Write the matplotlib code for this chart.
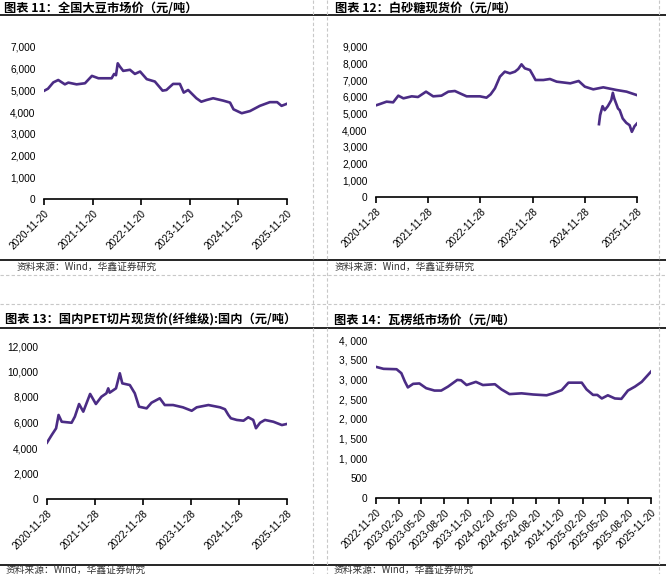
import numpy as np
import pandas as pd
import matplotlib
matplotlib.use("Agg")
import matplotlib.pyplot as plt
from matplotlib.ticker import FuncFormatter

W, H = 666, 574
LINE_COLOR = "#4b2c85"
CJK = ["Noto Sans CJK SC", "DejaVu Sans"]
NUM = ["Liberation Sans", "DejaVu Sans"]

# ---- 图表11 全国大豆市场价
soy_dates = ["2020-11-20", "2020-12-20", "2021-01-29", "2021-03-07", "2021-04-26", "2021-05-22",
             "2021-07-23", "2021-09-24", "2021-11-15", "2022-01-03", "2022-04-12", "2022-05-01",
             "2022-05-15", "2022-05-28", "2022-06-13", "2022-07-08", "2022-08-28", "2022-10-04",
             "2022-11-12", "2023-01-01", "2023-03-03", "2023-04-30", "2023-05-29", "2023-07-18",
             "2023-09-07", "2023-10-06", "2023-11-08", "2024-01-09", "2024-02-15", "2024-03-26",
             "2024-05-14", "2024-07-29", "2024-09-18", "2024-10-14", "2024-12-15", "2025-02-15",
             "2025-04-30", "2025-07-14", "2025-09-07", "2025-10-10", "2025-11-17"]
soy_price = [4980, 5080, 5370, 5480, 5280, 5360,
             5280, 5330, 5670, 5560, 5560, 5760,
             5700, 6250, 6100, 5900, 5950, 5760,
             5870, 5520, 5410, 4990, 5020, 5300,
             5300, 4900, 5020, 4640, 4480, 4560,
             4640, 4530, 4440, 4130, 3950, 4050,
             4290, 4460, 4460, 4290, 4380]
soy_ticks = ["2020-11-20", "2021-11-20", "2022-11-20", "2023-11-20", "2024-11-20", "2025-11-20"]

# ---- 图表12 白砂糖现货价 (two series)
sugar_dates = ["2020-11-28", "2020-12-26", "2021-02-10", "2021-03-28", "2021-05-03", "2021-06-08",
               "2021-08-05", "2021-09-18", "2021-11-13", "2022-01-02", "2022-03-01", "2022-04-18",
               "2022-06-03", "2022-07-08", "2022-08-24", "2022-11-25", "2023-01-10", "2023-02-08",
               "2023-03-10", "2023-04-14", "2023-05-18", "2023-06-23", "2023-07-28", "2023-08-20",
               "2023-09-12", "2023-10-05", "2023-11-10", "2023-11-30", "2023-12-19", "2024-02-12",
               "2024-03-29", "2024-05-15", "2024-08-18", "2024-10-16", "2024-11-28", "2025-01-26",
               "2025-04-06", "2025-07-08", "2025-09-16", "2025-11-25"]
sugar_price = [5500, 5580, 5720, 5680, 6080, 5920,
               6040, 6000, 6320, 6040, 6080, 6320,
               6360, 6220, 6040, 6040, 5960, 6160,
               6520, 7220, 7520, 7420, 7520, 7680,
               7960, 7720, 7620, 7320, 7020, 7020,
               7080, 6920, 6820, 6960, 6620, 6460,
               6580, 6420, 6320, 6120]
sugar2_dates = ["2025-03-07", "2025-03-15", "2025-04-01", "2025-04-16", "2025-05-08", "2025-06-01",
                "2025-06-12", "2025-06-22", "2025-07-18", "2025-07-30", "2025-08-20", "2025-09-14",
                "2025-10-07", "2025-10-23", "2025-11-11", "2025-11-28"]
sugar2_price = [4370, 4910, 5450, 5210, 5450, 5810,
                6250, 5910, 5310, 5210, 4710, 4450,
                4310, 3910, 4250, 4410]
sugar_ticks = ["2020-11-28", "2021-11-28", "2022-11-28", "2023-11-28", "2024-11-28", "2025-11-28"]

# ---- 图表13 国内PET切片现货价(纤维级)
pet_dates = ["2020-11-28", "2021-01-03", "2021-02-05", "2021-02-24", "2021-03-20", "2021-06-03",
             "2021-06-28", "2021-07-30", "2021-08-31", "2021-10-22", "2021-12-05", "2022-01-16",
             "2022-02-23", "2022-03-09", "2022-03-20", "2022-05-07", "2022-06-05", "2022-06-24",
             "2022-08-20", "2022-09-27", "2022-10-29", "2022-12-26", "2023-02-01", "2023-04-05",
             "2023-05-13", "2023-07-15", "2023-09-28", "2023-12-04", "2024-01-11", "2024-04-09",
             "2024-07-07", "2024-08-13", "2024-09-08", "2024-09-27", "2024-11-11", "2025-01-01",
             "2025-02-06", "2025-03-16", "2025-04-06", "2025-05-07", "2025-06-13", "2025-08-16",
             "2025-10-20", "2025-11-25"]
pet_price = [4420, 5020, 5540, 6590, 6060, 5980,
             6460, 7450, 6850, 8240, 7450, 8020,
             8290, 8680, 8340, 8680, 9860, 9070,
             8940, 8290, 7240, 7110, 7550, 7900,
             7370, 7370, 7190, 6920, 7190, 7370,
             7190, 7040, 6590, 6330, 6200, 6140,
             6410, 6200, 5550, 5980, 6200, 6060,
             5800, 5880]
pet_ticks = ["2020-11-28", "2021-11-28", "2022-11-28", "2023-11-28", "2024-11-28", "2025-11-28"]

# ---- 图表14 瓦楞纸市场价
paper_dates = ["2022-11-20", "2022-12-20", "2023-02-10", "2023-03-01", "2023-03-15", "2023-03-27",
               "2023-04-17", "2023-05-12", "2023-06-08", "2023-07-11", "2023-08-07", "2023-09-03",
               "2023-10-10", "2023-10-25", "2023-11-16", "2023-12-23", "2024-01-20", "2024-03-08",
               "2024-04-03", "2024-05-05", "2024-06-22", "2024-08-08", "2024-09-30", "2024-10-26",
               "2024-11-29", "2024-12-26", "2025-02-17", "2025-03-08", "2025-04-03", "2025-04-20",
               "2025-05-08", "2025-06-01", "2025-06-29", "2025-07-25", "2025-08-20", "2025-09-17",
               "2025-10-14", "2025-11-20"]
paper_price = [3320, 3270, 3260, 3160, 2950, 2800,
               2890, 2900, 2780, 2720, 2720, 2820,
               2990, 2980, 2860, 2940, 2860, 2880,
               2750, 2630, 2650, 2620, 2600, 2650,
               2730, 2920, 2920, 2750, 2610, 2610,
               2520, 2600, 2520, 2510, 2720, 2820,
               2940, 3200]
paper_ticks = ["2022-11-20", "2023-02-20", "2023-05-20", "2023-08-20", "2023-11-20", "2024-02-20",
               "2024-05-20", "2024-08-20", "2024-11-20", "2025-02-20", "2025-05-20", "2025-08-20",
               "2025-11-20"]

fig = plt.figure(figsize=(W / 100, H / 100), dpi=100)

# full-figure overlay in pixel coords for frames, titles and sources
bg = fig.add_axes([0, 0, 1, 1])
bg.set_xlim(0, W)
bg.set_ylim(H, 0)
bg.axis("off")

for y in [15, 260, 328, 565]:
    bg.plot([0, W], [y, y], color="black", lw=1.2)
for y in [275, 304]:
    bg.plot([0, W], [y, y], color="#c8c8c8", lw=0.8, ls=(0, (3, 2)))
for x in [313, 327, 659]:
    bg.plot([x, x], [0, H], color="#c8c8c8", lw=0.8, ls=(0, (3, 2)))

titles = [(4, 8, "图表 11：全国大豆市场价（元/吨）"),
          (335, 8, "图表 12：白砂糖现货价（元/吨）"),
          (5, 320, "图表 13：国内PET切片现货价(纤维级):国内（元/吨）"),
          (334, 320, "图表 14：瓦楞纸市场价（元/吨）")]
for x, y, t in titles:
    bg.text(x, y, t, family=CJK, fontsize=8.8, fontweight="bold", va="center", ha="left")

for x, y in [(17, 267), (335, 267), (6, 570), (334, 570)]:
    bg.text(x, y, "资料来源：Wind，华鑫证券研究", family=CJK, fontsize=7, color="#333333",
            va="center", ha="left")


def panel(x0, ytop, x1, ybot, ymax, ystep, ticks, series, comma_space=False):
    ax = fig.add_axes([x0 / W, 1 - ybot / H, (x1 - x0) / W, (ybot - ytop) / H])
    ax.patch.set_alpha(0)
    for dates, vals in series:
        ax.plot(pd.to_datetime(dates), vals, color=LINE_COLOR, lw=1.9, solid_joinstyle="round")
    tick_dates = pd.to_datetime(ticks)
    ax.set_xlim(tick_dates[0], tick_dates[-1])
    ax.set_ylim(0, ymax)
    ax.set_yticks(np.arange(0, ymax + 1, ystep))
    sep = ", " if comma_space else ","
    ax.yaxis.set_major_formatter(FuncFormatter(lambda v, p: f"{int(v):,}".replace(",", sep)))
    ax.set_xticks(tick_dates)
    ax.set_xticklabels(ticks, rotation=45, ha="right", rotation_mode="anchor", family=NUM, fontsize=7.2)
    for lab in ax.get_yticklabels():
        lab.set_family(NUM)
        lab.set_fontsize(7.3)
    for s in ["top", "right", "left"]:
        ax.spines[s].set_visible(False)
    ax.spines["bottom"].set_linewidth(1.2)
    ax.tick_params(axis="y", length=0, pad=6)
    ax.tick_params(axis="x", direction="out", length=4, width=1.2, pad=3)
    return ax


panel(44, 47, 287, 199, 7000, 1000, soy_ticks, [(soy_dates, soy_price)])
panel(376, 47, 637, 197, 9000, 1000, sugar_ticks,
      [(sugar_dates, sugar_price), (sugar2_dates, sugar2_price)])
panel(47, 346, 287, 499, 12000, 2000, pet_ticks, [(pet_dates, pet_price)])
panel(376, 340, 651, 498, 4000, 500, paper_ticks, [(paper_dates, paper_price)], comma_space=True)

fig.savefig("out.png", dpi=100)
